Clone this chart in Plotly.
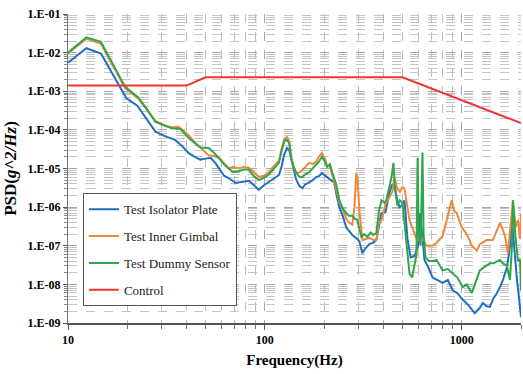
import plotly.graph_objects as go

# ---------------- data ----------------
f_iso = [10, 12.4, 14.7, 17, 19.8, 22.5, 25, 27.8, 31, 35, 38, 41, 44, 47, 50, 53, 56, 59.5, 62, 66,
         71, 76, 83, 88, 93, 99, 104, 109, 113, 118, 122, 125, 129.5, 133, 136, 140, 144, 150, 155, 160,
         168, 175, 182, 188, 195, 204, 212, 218, 225, 232, 239, 248, 259, 268, 278, 290, 302, 313, 325, 340,
         355, 368, 380, 391, 410, 429, 442, 455, 470, 483, 497, 512, 530, 550, 576, 600, 615, 630, 647, 680,
         711, 750, 800, 850, 900, 950, 1012, 1080, 1165, 1230, 1280, 1340, 1390, 1450, 1509, 1563, 1620, 1698, 1760, 1800,
         1850, 1908, 1960, 2000]
psd_iso = [5.5e-3, 1.3e-2, 9.5e-3, 2.6e-3, 6.6e-4, 4.2e-4, 2e-4, 9e-5, 6.9e-5, 5.5e-5,
           3.8e-5, 2.5e-5, 2e-5, 1.7e-5, 1.8e-5, 1.9e-5, 1.4e-5, 9e-6, 6.5e-6, 5.5e-6,
           4.2e-6, 4.5e-6, 4.8e-6, 3.7e-6, 2.8e-6, 3.7e-6, 4.4e-6, 5e-6, 5.6e-6, 6.8e-6,
           1.2e-5, 2.2e-5, 3.4e-5, 3e-5, 1.8e-5, 9e-6, 5.3e-6, 3.5e-6, 3.1e-6, 3.8e-6,
           4.3e-6, 5e-6, 6e-6, 6.3e-6, 7.6e-6, 6.3e-6, 5.5e-6, 4.7e-6, 4.3e-6, 1.9e-6,
           1e-6, 6.2e-7, 3e-7, 2.4e-7, 1.9e-7, 1.6e-7, 1.3e-7, 6.4e-8, 8.7e-8, 1.1e-7,
           1.2e-7, 1.4e-7, 3.4e-7, 6.9e-7, 7.4e-7, 2.3e-6, 3.7e-6, 4e-6, 1.5e-6, 1e-6,
           1.1e-6, 1.5e-6, 1.5e-7, 5e-8, 5.5e-8, 1e-7, 7e-7, 2e-7, 4.3e-8, 2.6e-8,
           1.5e-8, 1.3e-8, 1.1e-8, 1.3e-8, 7e-9, 5.9e-9, 4e-9, 2.9e-9, 1.8e-9, 2.4e-9,
           3.3e-9, 2.7e-9, 2.6e-9, 4.4e-9, 5.9e-9, 8.5e-9, 1.3e-8, 2.8e-8, 1e-7, 4.6e-7,
           7.8e-8, 1.3e-8, 3.9e-9, 1.4e-9]

f_gim = [10, 12.4, 14.7, 17, 19.5, 22.7, 25, 27.8, 31, 33.6, 36.5, 40.9, 44, 47.1, 51.8, 55, 58.2, 61, 65.5, 69,
         73.6, 78, 82.8, 88, 93.1, 99, 104.8, 110, 117.9, 122, 126, 129.5, 133, 136, 140, 144, 150, 155, 160, 168,
         175, 182, 188, 195, 202, 207, 214, 220, 230, 239, 249, 259, 268, 278, 285, 291, 296, 302, 313, 325,
         340, 355, 368, 380, 391, 410, 429, 445, 455, 470, 485, 500, 512, 543, 560, 589, 611, 632, 662, 711,
         745, 800, 850, 889, 915, 943, 1000, 1061, 1125, 1193, 1236, 1280, 1340, 1439, 1500, 1563, 1620, 1657, 1717, 1760,
         1820, 1880, 1930, 1977, 2000]
psd_gim = [9.5e-3, 2.3e-2, 1.7e-2, 4.5e-3, 1.2e-3, 6.5e-4, 3.4e-4, 1.7e-4, 1.3e-4, 1.15e-4,
           1.2e-4, 7.4e-5, 4.8e-5, 3.5e-5, 2.2e-5, 2.1e-5, 1.9e-5, 1.5e-5, 1e-5, 1.1e-5,
           1e-5, 1.1e-5, 1.05e-5, 8e-6, 6e-6, 6.5e-6, 8e-6, 1.1e-5, 1.6e-5, 3.5e-5,
           6e-5, 6.5e-5, 5e-5, 2e-5, 1.1e-5, 7.6e-6, 8e-6, 9e-6, 1.1e-5, 1.4e-5,
           1.3e-5, 1.5e-5, 2e-5, 2.5e-5, 1.8e-5, 1.2e-5, 1.1e-5, 7e-6, 3e-6, 1.3e-6,
           9e-7, 5e-7, 4e-7, 3.5e-7, 1e-6, 7.6e-6, 5e-6, 8e-7, 1.4e-7, 1.5e-7,
           1.6e-7, 1.4e-7, 1.4e-7, 4e-7, 4.6e-7, 1.2e-6, 1.8e-6, 2.5e-6, 6e-6, 3e-6,
           2.5e-6, 3.3e-6, 3e-6, 4.6e-7, 3e-7, 1.5e-7, 1.4e-7, 1.5e-7, 1e-7, 1e-7,
           1.2e-7, 1.8e-7, 6e-7, 1.5e-6, 8e-7, 7e-7, 3e-7, 2e-7, 1e-7, 7.5e-8,
           1.1e-7, 1.2e-7, 1.4e-7, 1.4e-7, 2.5e-7, 3.9e-7, 2.5e-7, 1.8e-7, 6.4e-8, 3e-7,
           1.5e-6, 3e-7, 4.6e-7, 1.5e-7, 6.9e-7]

f_dum = [10, 12.4, 14.7, 17, 19.5, 22.7, 25, 27.8, 31, 33.6, 37.3, 40.9, 44, 47.1, 51.8, 55, 58.2, 61, 65.5, 69,
         73.6, 78, 82.8, 88, 93.1, 99, 104.8, 110, 117.9, 122, 126, 129.5, 133, 136, 140, 144, 150, 155, 160, 168,
         175, 182, 188, 195, 202, 207, 214, 220, 230, 239, 249, 259, 268, 278, 286, 295, 302, 309, 320, 331,
         345, 355, 368, 380, 391, 405, 414, 429, 440, 450, 458, 471, 485, 500, 515, 530, 543, 560, 576, 589,
         597, 604, 618, 632, 640, 655, 680, 711, 745, 780, 800, 850, 900, 950, 1012, 1060, 1125, 1180, 1236, 1300,
         1390, 1450, 1563, 1620, 1698, 1758, 1800, 1820, 1870, 1930, 1977, 2000]
psd_dum = [1e-2, 2.5e-2, 1.9e-2, 5e-3, 1.3e-3, 7e-4, 3.6e-4, 1.6e-4, 1.3e-4, 1.1e-4,
           1.05e-4, 6.2e-5, 4.6e-5, 3.5e-5, 3.4e-5, 2.6e-5, 1.9e-5, 1.4e-5, 1e-5, 8e-6,
           8.5e-6, 9.4e-6, 9.4e-6, 6.3e-6, 5e-6, 5.8e-6, 7e-6, 9.4e-6, 1.4e-5, 3e-5,
           5.5e-5, 5.5e-5, 4.5e-5, 1.9e-5, 1.1e-5, 8e-6, 6e-6, 6e-6, 7e-6, 8e-6,
           1e-5, 1.2e-5, 1.5e-5, 2e-5, 1.5e-5, 1.1e-5, 1.3e-5, 8e-6, 4e-6, 1.5e-6,
           9e-7, 6.9e-7, 6e-7, 6e-7, 5e-7, 4.6e-7, 3e-7, 1.7e-7, 2e-7, 1.7e-7,
           2.2e-7, 1.9e-7, 2.1e-7, 8e-7, 1.5e-6, 1.3e-6, 1.5e-6, 3.3e-6, 6e-6, 1.4e-5,
           3e-6, 1.1e-6, 1.5e-6, 1.3e-6, 3e-7, 8e-8, 1.9e-8, 1.5e-8, 3e-8, 6e-8,
           1.9e-5, 2e-7, 1e-7, 2.6e-5, 2e-7, 5e-8, 4e-8, 4e-8, 4.3e-8, 3e-8,
           2.3e-8, 2.5e-8, 1.9e-8, 1.5e-8, 8.5e-9, 1e-8, 6e-9, 1.2e-8, 2.3e-8, 2.8e-8,
           3.5e-8, 3.5e-8, 4.3e-8, 3.5e-8, 3e-8, 1.3e-8, 1e-7, 1.5e-6, 2e-7, 4e-8,
           4.5e-8, 7e-9]

f_ctl = [10, 40, 50, 500, 2000]
psd_ctl = [1.4e-3, 1.4e-3, 2.3e-3, 2.3e-3, 1.5e-4]

series_names = ["Test Isolator Plate", "Test Inner Gimbal", "Test Dummy Sensor", "Control"]
series_colors = ["#1f6fc5", "#f0883a", "#30a64a", "#f03535"]

x_tickvals = [10, 100, 1000]
x_ticktext = ["10", "100", "1000"]
y_exponents = [-9, -8, -7, -6, -5, -4, -3, -2, -1]
y_tickvals = [10.0 ** e for e in y_exponents]
y_ticktext = ["1.E-%02d" % (-e) for e in y_exponents]

# ---------------- figure ----------------
serif = "Liberation Serif, Times New Roman, serif"
fig = go.Figure()
for (fx, fy), name, col in zip([(f_iso, psd_iso), (f_gim, psd_gim), (f_dum, psd_dum), (f_ctl, psd_ctl)],
                               series_names, series_colors):
    fig.add_trace(go.Scatter(x=fx, y=fy, mode="lines", name=name, legendgroup=name,
                             line=dict(color=col, width=2)))

x_minor = [m * d for d in [10, 100, 1000] for m in range(2, 10) if m * d <= 2000]
y_minor = [m * v for v in y_tickvals[:-1] for m in range(2, 10)]

fig.update_layout(
    width=523, height=374, autosize=False,
    margin=dict(l=68, r=2, t=14, b=51),
    paper_bgcolor="white", plot_bgcolor="white",
    font=dict(family=serif, color="black"),
    showlegend=True,
    legend=dict(x=0.033, y=0.42, xanchor="left", yanchor="top",
                bgcolor="white", bordercolor="#555555", borderwidth=1,
                font=dict(family=serif, size=13, color="#222"),
                traceorder="grouped", tracegroupgap=7, itemwidth=30),
)
fig.update_xaxes(
    type="log", range=[1, 3.30103], automargin=False,
    tickvals=x_tickvals, ticktext=x_ticktext,
    tickfont=dict(family=serif, size=12, weight="bold"),
    ticks="outside", ticklen=5, tickcolor="#555",
    showline=True, linecolor="#555", linewidth=2,
    showgrid=True, gridcolor="#a8a8a8", griddash="dash", gridwidth=1,
    minor=dict(tickvals=x_minor, ticks="outside", ticklen=4, tickcolor="#777",
               showgrid=True, gridcolor="#bcbcbc", griddash="dash", gridwidth=1),
    title=dict(text="<b>Frequency(Hz)</b>", font=dict(family=serif, size=15), standoff=8),
    zeroline=False,
)
fig.update_yaxes(
    type="log", range=[-9, -1], automargin=False,
    tickvals=y_tickvals, ticktext=y_ticktext,
    tickfont=dict(family=serif, size=12, weight="bold"),
    ticks="outside", ticklen=4, tickcolor="#555",
    showline=True, linecolor="#777", linewidth=1,
    showgrid=True, gridcolor="#a8a8a8", griddash="dash", gridwidth=1,
    minor=dict(tickvals=y_minor, ticks="outside", ticklen=3, tickcolor="#888",
               showgrid=True, gridcolor="#c4c4c4", griddash="dash", gridwidth=1),
    title=dict(text="<b>PSD(<i>g^2/Hz</i>)</b>", font=dict(family=serif, size=17), standoff=6),
    zeroline=False,
)

fig.write_html("out.html", config={"responsive": False, "displayModeBar": False},
               post_script="document.body.style.margin='0';document.body.style.overflow='hidden';")
